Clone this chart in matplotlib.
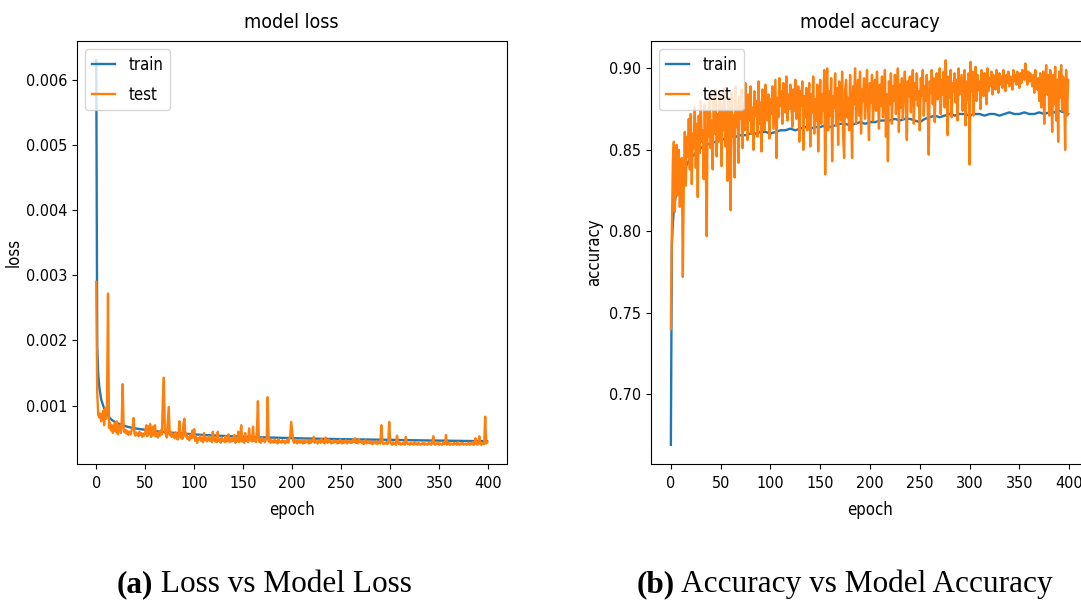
import numpy as np
import matplotlib
matplotlib.use('Agg')
import matplotlib.pyplot as plt

# Define data
n_epochs = 400

# training loss, sampled at a few epochs (smooth curve)
loss_train_ep = [0, 1, 2, 3, 4, 5, 6, 8, 10, 12, 14, 16, 18, 20, 25, 30, 35, 40, 45, 50,
                 55, 60, 65, 70, 75, 80, 85, 90, 95, 100, 110, 120, 130, 140, 150, 160, 170,
                 180, 190, 200, 210, 220, 230, 240, 250, 260, 270, 280, 290, 300, 310, 320,
                 330, 340, 350, 360, 370, 380, 390, 399]
loss_train_e4 = [63.0, 19.0, 15.0, 13.0, 12.0, 11.0, 10.5, 9.6, 9.0, 8.5, 8.1, 7.8, 7.6, 7.4,
                 7.1, 6.85, 6.65, 6.5, 6.4, 6.3, 6.2, 6.1, 6.02, 5.95, 5.88, 5.82, 5.76, 5.7,
                 5.65, 5.6, 5.5, 5.43, 5.36, 5.3, 5.24, 5.19, 5.14, 5.1, 5.06, 5.02, 4.98,
                 4.95, 4.92, 4.89, 4.86, 4.84, 4.82, 4.8, 4.78, 4.76, 4.73, 4.7, 4.68, 4.66,
                 4.64, 4.62, 4.6, 4.58, 4.56, 4.55]

# validation loss, every epoch (units of 1e-4)
loss_test_e4 = [
    29.0, 12.0, 8.6, 8.2, 8.8, 7.6, 8.4, 9.2, 7.0, 9.6, 8.0, 10.2, 27.2, 6.6, 7.4, 6.2, 7.0, 5.8, 6.6, 7.3,
    6.0, 7.6, 5.6, 7.0, 6.4, 5.8, 7.8, 13.3, 6.2, 5.9, 6.3, 5.7, 6.1, 5.5, 6.0, 5.6, 6.2, 6.4, 8.1, 5.8,
    5.4, 5.9, 5.6, 5.3, 6.0, 5.5, 5.8, 5.2, 5.7, 5.4, 6.0, 7.0, 5.3, 6.8, 5.6, 7.2, 5.2, 5.8, 6.8, 5.4,
    7.0, 5.3, 5.8, 5.1, 6.0, 5.4, 6.2, 5.6, 11.0, 14.3, 6.2, 5.6, 5.1, 7.4, 9.8, 5.5, 6.0, 5.2, 5.7, 5.3,
    5.0, 5.9, 5.2, 4.8, 5.6, 7.6, 5.1, 5.5, 4.9, 7.2, 8.0, 5.3, 5.7, 4.9, 5.2, 4.7, 5.5, 5.0, 6.2, 5.1,
    6.4, 4.6, 5.2, 4.3, 5.0, 4.8, 5.4, 4.6, 5.0, 4.4, 5.8, 4.7, 5.1, 4.5, 4.9, 5.3, 4.6, 5.0, 4.4, 6.0,
    4.8, 4.5, 5.2, 4.4, 6.0, 4.6, 4.9, 4.3, 5.1, 4.6, 4.8, 4.4, 5.3, 4.5, 4.7, 5.6, 4.4, 4.9, 4.5, 5.1,
    4.6, 5.5, 4.3, 4.8, 4.5, 6.0, 4.4, 5.2, 7.0, 4.5, 4.9, 4.3, 5.8, 4.6, 5.0, 4.4, 6.5, 4.7, 5.3, 4.5,
    6.8, 4.6, 5.0, 4.4, 6.2, 10.7, 4.5, 4.9, 4.3, 5.1, 4.6, 4.8, 4.4, 4.7, 5.0, 11.3, 4.5, 4.9, 4.3, 4.7,
    4.5, 4.3, 4.8, 4.4, 4.6, 4.2, 4.9, 4.4, 4.5, 4.3, 4.7, 4.4, 4.6, 4.2, 4.5, 4.8, 4.3, 4.9, 5.4, 7.5,
    6.0, 4.6, 4.3, 4.8, 4.4, 4.2, 4.7, 4.5, 4.3, 4.6, 4.4, 4.2, 4.8, 4.3, 4.5, 4.4, 4.6, 4.2, 4.7, 4.3,
    4.5, 4.8, 5.2, 4.3, 4.6, 4.4, 4.2, 4.7, 4.5, 4.3, 4.9, 4.4, 4.6, 4.2, 5.1, 4.5, 4.3, 4.8, 4.4, 4.6,
    4.2, 4.5, 4.3, 4.7, 4.4, 4.6, 4.2, 4.5, 4.3, 4.8, 4.4, 4.2, 4.6, 4.3, 4.5, 4.7, 4.2, 4.4, 4.6, 4.3,
    4.5, 4.3, 4.8, 4.4, 5.0, 4.3, 4.6, 4.2, 4.9, 4.4, 4.6, 4.3, 4.5, 4.1, 4.4, 4.7, 4.2, 4.5, 4.3, 4.6,
    4.2, 4.4, 4.1, 4.5, 4.3, 4.2, 4.6, 4.1, 4.4, 4.3, 4.2, 7.0, 4.5, 4.1, 4.3, 4.2, 4.4, 4.1, 4.3, 7.5,
    4.6, 4.2, 4.0, 4.4, 4.1, 4.3, 4.0, 5.4, 4.5, 4.1, 4.3, 4.0, 4.2, 4.1, 4.4, 4.0, 5.2, 4.3, 4.1, 4.2,
    4.0, 4.3, 4.1, 4.2, 4.0, 4.4, 4.1, 4.2, 4.0, 4.3, 4.1, 4.0, 4.2, 4.1, 4.3, 4.0, 4.2, 4.1, 4.0, 4.3,
    4.1, 4.2, 4.0, 4.3, 5.3, 4.1, 4.0, 4.2, 4.1, 4.3, 4.0, 4.2, 4.1, 4.0, 4.3, 4.1, 4.2, 5.5, 4.0, 4.1,
    4.3, 4.0, 4.2, 4.1, 4.0, 4.3, 4.1, 4.2, 4.0, 4.4, 4.1, 4.0, 4.2, 4.1, 4.3, 4.0, 4.1, 4.2, 4.0, 4.1,
    4.3, 4.0, 4.2, 4.1, 4.4, 4.0, 4.1, 5.0, 4.2, 4.0, 4.3, 5.3, 4.1, 4.0, 4.2, 4.3, 4.1, 8.3, 4.2, 4.4]

# training accuracy, sampled at a few epochs
acc_train_ep = [0, 1, 2, 3, 4, 5, 6, 8, 10, 12, 14, 16, 18, 20, 25, 30, 35, 40, 45, 50,
                55, 60, 65, 70, 75, 80, 85, 90, 95, 100, 105, 110, 115, 120, 125, 130, 135,
                140, 145, 150, 155, 160, 165, 170, 175, 180, 185, 190, 195, 200, 205, 210,
                215, 220, 225, 230, 235, 240, 245, 250, 255, 260, 265, 270, 275, 280, 285,
                290, 295, 300, 305, 310, 315, 320, 325, 330, 335, 340, 345, 350, 355, 360,
                365, 370, 375, 380, 385, 390, 395, 399]
acc_train = [0.669, 0.792, 0.805, 0.813, 0.818, 0.822, 0.825, 0.831, 0.834, 0.836, 0.838,
             0.841, 0.843, 0.845, 0.848, 0.851, 0.853, 0.854, 0.855, 0.856, 0.857, 0.858,
             0.858, 0.859, 0.859, 0.860, 0.860, 0.861, 0.861, 0.860, 0.861, 0.862, 0.862,
             0.863, 0.862, 0.863, 0.864, 0.863, 0.864, 0.864, 0.865, 0.864, 0.865, 0.866,
             0.866, 0.865, 0.866, 0.867, 0.866, 0.867, 0.867, 0.868, 0.868, 0.868, 0.869,
             0.868, 0.869, 0.869, 0.868, 0.867, 0.869, 0.870, 0.871, 0.870, 0.871, 0.872,
             0.871, 0.872, 0.872, 0.871, 0.872, 0.872, 0.871, 0.872, 0.872, 0.871, 0.872,
             0.873, 0.872, 0.872, 0.873, 0.872, 0.872, 0.873, 0.872, 0.873, 0.873, 0.874,
             0.873, 0.872]

# validation accuracy, every epoch
acc_test = [
    0.740, 0.800, 0.843, 0.855, 0.812, 0.848, 0.853, 0.822, 0.850, 0.815, 0.836, 0.845, 0.772, 0.830, 0.861, 0.828, 0.858, 0.846, 0.869, 0.838,
    0.872, 0.829, 0.860, 0.851, 0.876, 0.839, 0.866, 0.821, 0.871, 0.848, 0.880, 0.855, 0.862, 0.832, 0.878, 0.845, 0.797, 0.874, 0.858, 0.884,
    0.851, 0.868, 0.838, 0.881, 0.860, 0.887, 0.846, 0.872, 0.855, 0.884, 0.867, 0.840, 0.879, 0.862, 0.888, 0.852, 0.874, 0.831, 0.882, 0.866,
    0.813, 0.885, 0.858, 0.871, 0.833, 0.889, 0.864, 0.877, 0.842, 0.883, 0.869, 0.887, 0.851, 0.878, 0.862, 0.891, 0.872, 0.856, 0.884, 0.868,
    0.889, 0.860, 0.876, 0.850, 0.886, 0.871, 0.880, 0.858, 0.892, 0.866, 0.879, 0.849, 0.887, 0.873, 0.862, 0.890, 0.876, 0.868, 0.884, 0.857,
    0.881, 0.872, 0.889, 0.863, 0.878, 0.893, 0.845, 0.882, 0.870, 0.894, 0.877, 0.886, 0.866, 0.891, 0.879, 0.873, 0.895, 0.868, 0.884, 0.875,
    0.890, 0.880, 0.864, 0.887, 0.874, 0.893, 0.869, 0.881, 0.889, 0.855, 0.886, 0.877, 0.892, 0.850, 0.883, 0.870, 0.888, 0.862, 0.879, 0.891,
    0.852, 0.884, 0.873, 0.895, 0.860, 0.881, 0.868, 0.890, 0.849, 0.878, 0.893, 0.866, 0.884, 0.874, 0.899, 0.835, 0.880, 0.900, 0.862, 0.886,
    0.871, 0.894, 0.843, 0.883, 0.876, 0.897, 0.865, 0.888, 0.853, 0.892, 0.879, 0.868, 0.898, 0.859, 0.845, 0.887, 0.893, 0.870, 0.882, 0.862,
    0.896, 0.874, 0.845, 0.889, 0.878, 0.900, 0.866, 0.885, 0.893, 0.871, 0.898, 0.860, 0.887, 0.880, 0.894, 0.869, 0.883, 0.899, 0.876, 0.856,
    0.891, 0.879, 0.896, 0.868, 0.885, 0.893, 0.874, 0.898, 0.882, 0.863, 0.890, 0.877, 0.895, 0.870, 0.887, 0.899, 0.858, 0.884, 0.843, 0.892,
    0.878, 0.897, 0.866, 0.889, 0.880, 0.896, 0.872, 0.885, 0.900, 0.861, 0.890, 0.876, 0.894, 0.869, 0.887, 0.898, 0.879, 0.856, 0.892, 0.883,
    0.895, 0.873, 0.888, 0.899, 0.866, 0.891, 0.881, 0.897, 0.877, 0.886, 0.862, 0.894, 0.883, 0.899, 0.871, 0.889, 0.880, 0.896, 0.875, 0.847,
    0.892, 0.885, 0.899, 0.878, 0.894, 0.867, 0.890, 0.897, 0.881, 0.888, 0.900, 0.872, 0.893, 0.884, 0.898, 0.876, 0.905, 0.887, 0.859, 0.895,
    0.882, 0.899, 0.870, 0.891, 0.886, 0.897, 0.879, 0.893, 0.868, 0.900, 0.884, 0.890, 0.896, 0.874, 0.888, 0.899, 0.865, 0.892, 0.881, 0.897,
    0.841, 0.904, 0.886, 0.898, 0.871, 0.893, 0.901, 0.880, 0.896, 0.887, 0.892, 0.875, 0.899, 0.889, 0.883, 0.897, 0.891, 0.878, 0.900, 0.886,
    0.894, 0.889, 0.898, 0.884, 0.896, 0.891, 0.887, 0.899, 0.893, 0.885, 0.897, 0.890, 0.895, 0.888, 0.899, 0.892, 0.886, 0.896, 0.891, 0.898,
    0.889, 0.895, 0.893, 0.887, 0.899, 0.892, 0.896, 0.890, 0.898, 0.894, 0.888, 0.897, 0.891, 0.899, 0.895, 0.893, 0.903, 0.896, 0.890, 0.898,
    0.892, 0.897, 0.894, 0.889, 0.896, 0.885, 0.899, 0.891, 0.887, 0.894, 0.880, 0.897, 0.876, 0.890, 0.898, 0.866, 0.893, 0.902, 0.884, 0.896,
    0.871, 0.899, 0.887, 0.861, 0.896, 0.878, 0.901, 0.868, 0.893, 0.855, 0.898, 0.882, 0.902, 0.874, 0.895, 0.888, 0.850, 0.899, 0.871, 0.893]

captions = [('(a)', ' Loss vs Model Loss'), ('(b)', ' Accuracy vs Model Accuracy')]

epochs = np.arange(n_epochs)
loss_train = np.array(loss_train_e4) * 1e-4
loss_test = np.array(loss_test_e4) * 1e-4

plt.rcParams['font.family'] = 'DejaVu Sans'
plt.rcParams['font.stretch'] = 'condensed'
plt.rcParams['font.size'] = 12
plt.rcParams['xtick.labelsize'] = 11.5
plt.rcParams['ytick.labelsize'] = 11.5
plt.rcParams['xtick.major.pad'] = 5
plt.rcParams['lines.linewidth'] = 1.7

W, H = 1081, 602
fig = plt.figure(figsize=(W / 100, H / 100), dpi=100)

ax1 = fig.add_axes([76.7 / W, 138 / H, 430 / W, 423 / H])
ax1.plot(loss_train_ep, loss_train, color='#1f77b4')
ax1.plot(epochs, loss_test, color='#ff7f0e')
ax1.set_title('model loss', fontsize=14, pad=9)
ax1.set_ylabel('loss', labelpad=2)
ax1.set_xlabel('epoch', labelpad=7)
ax1.set_xticks([0, 50, 100, 150, 200, 250, 300, 350, 400])
ax1.legend(['train', 'test'], loc='upper left', handlelength=1.4, labelspacing=0.7)

ax2 = fig.add_axes([651 / W, 138 / H, 437 / W, 423 / H])
ax2.plot(acc_train_ep, acc_train, color='#1f77b4')
ax2.plot(epochs, acc_test, color='#ff7f0e')
ax2.set_title('model accuracy', fontsize=14, pad=9)
ax2.set_ylabel('accuracy', labelpad=4)
ax2.set_xlabel('epoch', labelpad=7)
ax2.set_xticks([0, 50, 100, 150, 200, 250, 300, 350, 400])
ax2.set_yticks([0.70, 0.75, 0.80, 0.85, 0.90])
ax2.legend(['train', 'test'], loc='upper left', handlelength=1.4, labelspacing=0.7)

# figure captions under each panel
for (tag, rest), x0 in zip(captions, [117, 637]):
    t = fig.text(x0 / W, 10 / H, tag, family='Liberation Serif', weight='bold',
                 fontsize=22.5, va='baseline', stretch='normal')
    ax1.annotate(rest, xy=(1, 0), xycoords=t, va='bottom', ha='left',
                 family='Liberation Serif', fontsize=22.5, stretch='normal',
                 annotation_clip=False)

fig.savefig('out.png', dpi=100)
